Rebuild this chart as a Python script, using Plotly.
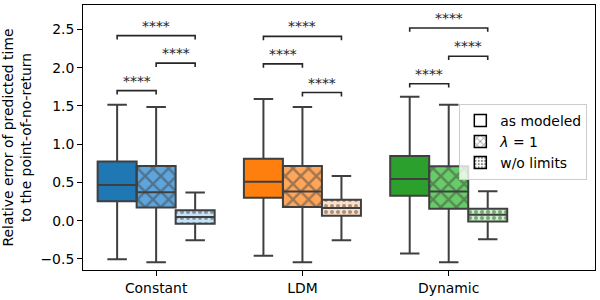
import plotly.graph_objects as go

categories = ["Constant", "LDM", "Dynamic"]
variants = ["as modeled", "<i>λ</i> = 1", "w/o limits"]

# box statistics per category: [Constant, LDM, Dynamic]
lower_as = [-0.505, -0.46, -0.43]
q1_as = [0.255, 0.30, 0.325]
med_as = [0.465, 0.51, 0.545]
q3_as = [0.775, 0.81, 0.845]
upper_as = [1.515, 1.59, 1.62]

lower_lam = [-0.545, -0.545, -0.545]
q1_lam = [0.172, 0.18, 0.155]
med_lam = [0.372, 0.38, 0.38]
q3_lam = [0.715, 0.715, 0.71]
upper_lam = [1.485, 1.485, 1.515]

lower_wo = [-0.255, -0.255, -0.242]
q1_wo = [-0.04, 0.065, -0.01]
med_wo = [0.048, 0.165, 0.078]
q3_wo = [0.135, 0.272, 0.155]
upper_wo = [0.367, 0.583, 0.385]

# significance bracket heights per category
sig_as_lam = [1.70, 2.05, 1.79]
sig_lam_wo = [2.06, 1.675, 2.15]
sig_as_wo = [2.42, 2.41, 2.52]
sig_label = "****"

fill_as = ["#1f77b4", "#ff7f0e", "#2ca02c"]
fill_lam = ["#5da5dc", "#ffa65a", "#68cd68"]
fill_wo = ["#c4e2f8", "#ffdfc6", "#c3f6c3"]

EDGE = "#3f3f3f"
W = 0.8 / 3
offsets = [-W, 0.0, W]
FONT = "DejaVu Sans"
FS = 13.9

groups = [
    (lower_as, q1_as, med_as, q3_as, upper_as, fill_as, ""),
    (lower_lam, q1_lam, med_lam, q3_lam, upper_lam, fill_lam, "x"),
    (lower_wo, q1_wo, med_wo, q3_wo, upper_wo, fill_wo, "."),
]

fig = go.Figure()

# box bodies with hatch patterns
for k, (lo, q1, med, q3, up, fills, pat) in enumerate(groups):
    xs = [i + offsets[k] for i in range(len(categories))]
    pattern = dict(shape=pat, fgcolor=EDGE, size=11 if pat == "x" else 6,
                   solidity=0.4 if pat == "x" else 0.35)
    fig.add_trace(go.Bar(
        x=xs, y=[b - a for a, b in zip(q1, q3)], base=q1, width=W,
        marker=dict(color=fills, line=dict(width=0), pattern=pattern),
        showlegend=False, hoverinfo="skip",
    ))

# box outlines, medians, whiskers
for k, (lo, q1, med, q3, up, fills, pat) in enumerate(groups):
    xs = [i + offsets[k] for i in range(len(categories))]
    fig.add_trace(go.Box(
        x=xs, q1=q1, median=med, q3=q3, lowerfence=lo, upperfence=up,
        width=W, whiskerwidth=0.5, fillcolor="rgba(0,0,0,0)",
        line=dict(color=EDGE, width=2), boxpoints=False, showlegend=False,
    ))

# significance brackets
bx, by = [], []
tick = 0.05
annots = []
for i in range(len(categories)):
    for (a, b, hs) in [(0, 1, sig_as_lam), (1, 2, sig_lam_wo), (0, 2, sig_as_wo)]:
        xa, xb, h = i + offsets[a], i + offsets[b], hs[i]
        bx += [xa, xa, xb, xb, None]
        by += [h - tick, h, h, h - tick, None]
        annots.append(dict(x=(xa + xb) / 2, y=h, text=sig_label, showarrow=False,
                           yanchor="bottom", xanchor="center", yshift=0,
                           font=dict(family=FONT, size=FS, color="#262626")))
fig.add_trace(go.Scatter(x=bx, y=by, mode="lines",
                         line=dict(color="#262626", width=1.6),
                         showlegend=False, hoverinfo="skip"))

# legend entries
for k, name in enumerate(variants):
    pat = groups[k][6]
    fig.add_trace(go.Bar(
        x=[None], y=[None], name=name,
        marker=dict(color="white", line=dict(color="black", width=1.5),
                    pattern=dict(shape=pat, fgcolor="black", size=6 if pat == "x" else 4,
                                 solidity=0.3 if pat == "x" else 0.3)),
    ))

fig.update_layout(
    width=600, height=300,
    margin=dict(l=83, r=4, t=4, b=28),
    plot_bgcolor="white", paper_bgcolor="white",
    barmode="overlay", boxmode="overlay",
    font=dict(family=FONT, size=FS, color="black"),
    annotations=annots,
    legend=dict(x=0.985, xanchor="right", y=0.627, yanchor="top",
                bgcolor="rgba(255,255,255,0.8)", bordercolor="#cccccc", borderwidth=1,
                font=dict(family=FONT, size=FS), tracegroupgap=0, itemwidth=30),
    showlegend=True,
)
fig.update_xaxes(range=[-0.5, 3.0], tickvals=list(range(len(categories))), ticktext=categories,
                 showline=True, linecolor="black", linewidth=1, mirror=True,
                 ticks="outside", ticklen=5, tickcolor="black", showgrid=False, zeroline=False)
fig.update_yaxes(range=[-0.645, 2.82], dtick=0.5, tick0=0, tickformat=".1f",
                 showline=True, linecolor="black", linewidth=1, mirror=True,
                 ticks="outside", ticklen=5, tickcolor="black", showgrid=False, zeroline=False,
                 title=dict(text="Relative error of predicted time<br>to the point-of-no-return",
                            font=dict(family=FONT, size=FS), standoff=6))

fig.write_html("out.html", config={"displayModeBar": False},
               post_script="document.body.style.margin='0';")
